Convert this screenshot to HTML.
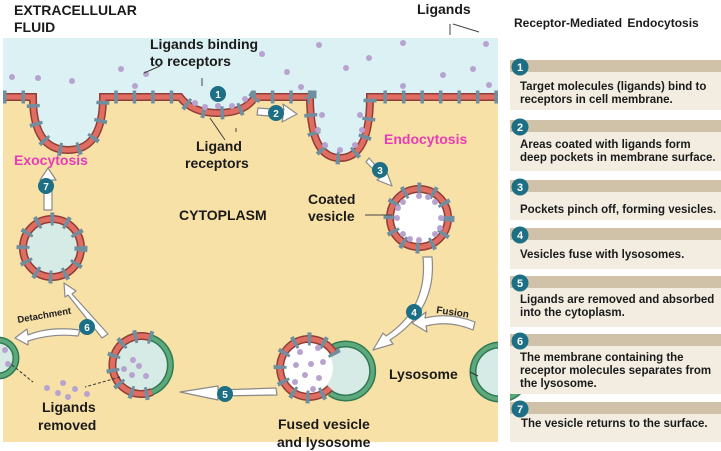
<!DOCTYPE html>
<html><head><meta charset="utf-8"><style>
body{margin:0;width:721px;height:451px;background:#fff;overflow:hidden;font-family:"Liberation Sans",Arial,sans-serif}
svg{position:absolute;left:0;top:0}
.b{font-weight:bold;fill:#1a1a1a}
</style></head><body>
<svg width="721" height="451" viewBox="0 0 721 451">
<rect x="3" y="38" width="495" height="404" fill="#f8e1a6"/>
<path d="M3,38 H498 V97 H370 Q370,158 340,158 Q310,158 310,97 H255 Q245,113 218,113 Q192,113 180,97 H103 Q103,150 68,150 Q33,150 33,97 H3 Z" fill="#dcf1f3"/>
<g fill="#b6a3d0">
<circle cx="12" cy="77" r="3"/><circle cx="38" cy="78" r="3"/><circle cx="72" cy="81" r="3"/><circle cx="121" cy="69" r="3"/><circle cx="146" cy="74" r="3"/><circle cx="135" cy="86" r="3"/><circle cx="262" cy="54" r="3"/><circle cx="287" cy="72" r="3"/><circle cx="319" cy="45" r="3"/><circle cx="346" cy="68" r="3"/><circle cx="369" cy="58" r="3"/><circle cx="403" cy="43" r="3"/><circle cx="443" cy="75" r="3"/><circle cx="473" cy="69" r="3"/><circle cx="486" cy="44" r="3"/><circle cx="403" cy="86" r="3"/><circle cx="301" cy="87" r="3"/><circle cx="489" cy="85" r="3"/>
</g>
<path d="M3,97 H33 Q33,150 68,150 Q103,150 103,97 H180 Q192,113 218,113 Q245,113 255,97 H310 Q310,158 340,158 Q370,158 370,97 H498" fill="none" stroke="#8f3d36" stroke-width="8"/>
<path d="M3,97 H33 Q33,150 68,150 Q103,150 103,97 H180 Q192,113 218,113 Q245,113 255,97 H310 Q310,158 340,158 Q370,158 370,97 H498" fill="none" stroke="#e06d62" stroke-width="5"/>
<path d="M3,97 H33 Q33,150 68,150 Q103,150 103,97 H180 Q192,113 218,113 Q245,113 255,97 H310 Q310,158 340,158 Q370,158 370,97 H498" fill="none" stroke="#6f8fa0" stroke-width="13" stroke-dasharray="3.5 15"/>
<g fill="#b6a3d0">
<circle cx="195" cy="103" r="3"/><circle cx="205" cy="107" r="3"/><circle cx="218" cy="106" r="3"/><circle cx="232" cy="106" r="3"/><circle cx="245" cy="99" r="3"/>
<circle cx="322" cy="115" r="3"/><circle cx="318" cy="130" r="3"/><circle cx="325" cy="145" r="3"/><circle cx="340" cy="150" r="3"/><circle cx="355" cy="145" r="3"/><circle cx="362" cy="130" r="3"/><circle cx="360" cy="115" r="3"/>
</g>
<circle cx="419" cy="218" r="25" fill="#fff"/>
<circle cx="419" cy="218" r="29" fill="none" stroke="#8f3d36" stroke-width="8"/>
<circle cx="419" cy="218" r="29" fill="none" stroke="#e06d62" stroke-width="5"/>
<circle cx="419" cy="218" r="29" fill="none" stroke="#6f8fa0" stroke-width="13" stroke-dasharray="3.5 11.5"/>
<g fill="#b6a3d0"><circle cx="397" cy="218" r="3"/><circle cx="441" cy="218" r="3"/><circle cx="419" cy="196" r="3"/><circle cx="419" cy="240" r="3"/><circle cx="403" cy="202" r="3"/><circle cx="435" cy="202" r="3"/><circle cx="403" cy="234" r="3"/><circle cx="435" cy="234" r="3"/><circle cx="398" cy="208" r="3"/><circle cx="440" cy="228" r="3"/><circle cx="410" cy="239" r="3"/><circle cx="428" cy="197" r="3"/></g>
<circle cx="52" cy="248" r="25" fill="#d7ebe6"/>
<circle cx="52" cy="248" r="29" fill="none" stroke="#8f3d36" stroke-width="8"/>
<circle cx="52" cy="248" r="29" fill="none" stroke="#e06d62" stroke-width="5"/>
<circle cx="52" cy="248" r="29" fill="none" stroke="#6f8fa0" stroke-width="13" stroke-dasharray="3.5 11.5"/>
<circle cx="140" cy="365" r="27" fill="#d7ebe6"/>
<path d="M152,338 A29,29 0 1,0 152,392" fill="none" stroke="#8f3d36" stroke-width="8"/>
<path d="M152,338 A29,29 0 1,0 152,392" fill="none" stroke="#e06d62" stroke-width="5"/>
<path d="M152,338 A29,29 0 1,0 152,392" fill="none" stroke="#6f8fa0" stroke-width="13" stroke-dasharray="3.5 11.5"/>
<path d="M152,338 A29,29 0 0,1 152,392" fill="none" stroke="#2f7a55" stroke-width="7"/>
<path d="M152,338 A29,29 0 0,1 152,392" fill="none" stroke="#5ea97c" stroke-width="4"/>
<g fill="#b6a3d0"><circle cx="133" cy="360" r="3"/><circle cx="124" cy="369" r="3"/><circle cx="139" cy="366" r="3"/><circle cx="132" cy="375" r="3"/><circle cx="146" cy="376" r="3"/></g>
<circle cx="-2" cy="358" r="18" fill="#d7ebe6" stroke="#2f7a55" stroke-width="7"/>
<circle cx="-2" cy="358" r="18" fill="none" stroke="#5ea97c" stroke-width="4"/>
<g fill="#b6a3d0"><circle cx="5" cy="350" r="3"/><circle cx="8" cy="364" r="3"/></g>
<g fill="#b6a3d0"><circle cx="47" cy="388" r="3"/><circle cx="63" cy="383" r="3"/><circle cx="75" cy="389" r="3"/><circle cx="58" cy="393" r="3"/><circle cx="68" cy="397" r="3"/><circle cx="87" cy="394" r="3"/></g>
<path d="M12,365 L33,382 M120,377 L85,387" stroke="#333" stroke-width="1" stroke-dasharray="3 2" fill="none"/>
<circle cx="345" cy="371" r="27" fill="#d7ebe6"/>
<path d="M330,349 A27,27 0 1,1 330,393" fill="none" stroke="#2f7a55" stroke-width="7"/>
<path d="M330,349 A27,27 0 1,1 330,393" fill="none" stroke="#5ea97c" stroke-width="4"/>
<circle cx="307" cy="368" r="26" fill="#fff"/>
<path d="M335,355 A29,29 0 1,0 330,388" fill="none" stroke="#8f3d36" stroke-width="8"/>
<path d="M335,355 A29,29 0 1,0 330,388" fill="none" stroke="#e06d62" stroke-width="5"/>
<path d="M335,355 A29,29 0 1,0 330,388" fill="none" stroke="#6f8fa0" stroke-width="13" stroke-dasharray="3.5 11.5"/>
<g fill="#b6a3d0"><circle cx="300" cy="352" r="3"/><circle cx="318" cy="348" r="3"/><circle cx="296" cy="365" r="3"/><circle cx="311" cy="364" r="3"/><circle cx="323" cy="362" r="3"/><circle cx="305" cy="375" r="3"/><circle cx="319" cy="378" r="3"/><circle cx="295" cy="382" r="3"/><circle cx="313" cy="389" r="3"/></g>
<circle cx="500" cy="372" r="27" fill="#d7ebe6" stroke="#2f7a55" stroke-width="7"/>
<circle cx="500" cy="372" r="27" fill="none" stroke="#5ea97c" stroke-width="4"/>
<rect x="498" y="300" width="12" height="151" fill="#fff"/>
<path d="M470,372 L478,376" stroke="#333" stroke-width="1"/>
<g fill="#fff" stroke="#8a8a8a" stroke-width="1.2" stroke-linejoin="round">
<path d="M258,108 L284,110 L283,104 L297,114 L282,122 L283,117 L257,115 Z"/>
<path d="M369,158 L383,174 L386,170 L392,186 L377,180 L381,177 L366,162 Z"/>
<path d="M423,257 L432,257 Q437,310 390,340 L393,344 L373,350 L383,333 L386,336 Q428,308 423,257 Z"/>
<path d="M475,322 Q450,312 425,318 L426,312 L412,323 L427,332 L426,326 Q450,320 473,330 Z"/>
<path d="M276,388 L218,390 L218,386 L180,392 L218,400 L218,396 L277,395 Z"/>
<path d="M108,334 L72,294 L76,291 L64,283 L65,297 L68,295 L102,338 Z"/>
<path d="M80,330 Q50,326 28,335 L27,329 L15,338 L28,345 L28,341 Q52,333 78,336 Z"/>
<path d="M44,210 L44,180 L40,180 L48,168 L56,180 L52,180 L52,210 Z"/>
</g>
<g font-size="10" font-weight="bold" fill="#fff" text-anchor="middle">
<circle cx="218" cy="94" r="8" fill="#1d6f86"/><text x="218" y="98">1</text>
<circle cx="276" cy="113" r="8" fill="#1d6f86"/><text x="276" y="117">2</text>
<circle cx="380" cy="170" r="8" fill="#1d6f86"/><text x="380" y="174">3</text>
<circle cx="414" cy="312" r="8" fill="#1d6f86"/><text x="414" y="316">4</text>
<circle cx="225" cy="394" r="8" fill="#1d6f86"/><text x="225" y="398">5</text>
<circle cx="87" cy="327" r="8" fill="#1d6f86"/><text x="87" y="331">6</text>
<circle cx="46" cy="186" r="8" fill="#1d6f86"/><text x="46" y="190">7</text>
</g>
<g class="b" font-size="14">
<text x="14" y="15">EXTRACELLULAR</text><text x="14" y="32">FLUID</text>
<text x="417" y="14">Ligands</text>
<text x="150" y="49">Ligands binding</text><text x="150" y="66">to receptors</text>
<text x="196" y="151">Ligand</text><text x="185" y="168">receptors</text>
<text x="308" y="204">Coated</text><text x="308" y="221">vesicle</text>
<text x="179" y="220">CYTOPLASM</text>
<text x="42" y="412">Ligands</text><text x="38" y="430">removed</text>
<text x="278" y="429">Fused vesicle</text><text x="277" y="447">and lysosome</text>
<text x="389" y="379">Lysosome</text>
</g>
<text x="14" y="165" font-size="14" font-weight="bold" fill="#e83bb8">Exocytosis</text>
<text x="384" y="144" font-size="14" font-weight="bold" fill="#e83bb8">Endocytosis</text>
<text x="436" y="313" font-size="10" font-weight="bold" fill="#222" transform="rotate(8 436 313)">Fusion</text>
<text x="18" y="323" font-size="9.5" font-weight="bold" fill="#222" transform="rotate(-10 18 323)">Detachment</text>
<g stroke="#444" stroke-width="1" fill="none">
<path d="M450,24 V35 M453,24 L479,32"/>
<path d="M144,73 L160,66 M202,78 V86"/>
<path d="M210,118 L225,140 M236,128 V132"/>
<path d="M365,215 L392,215"/>
</g>
<text x="514" y="27" font-size="12" font-weight="bold" fill="#1a1a1a" word-spacing="2">Receptor-Mediated  Endocytosis</text>
<g fill="#f2ede0">
<rect x="510" y="60" width="211" height="50"/><rect x="510" y="120" width="211" height="51"/><rect x="510" y="180" width="211" height="40"/><rect x="510" y="228" width="211" height="41"/><rect x="510" y="276" width="211" height="51"/><rect x="510" y="334" width="211" height="60"/><rect x="510" y="402" width="211" height="40"/>
</g>
<g fill="#cfc2a8">
<rect x="510" y="60" width="211" height="12"/><rect x="510" y="120" width="211" height="12"/><rect x="510" y="180" width="211" height="12"/><rect x="510" y="228" width="211" height="12"/><rect x="510" y="276" width="211" height="12"/><rect x="510" y="334" width="211" height="12"/><rect x="510" y="402" width="211" height="12"/>
</g>
<g font-size="11.5" font-weight="bold" fill="#1a1a1a">
<text x="520" y="90">Target molecules (ligands) bind to</text><text x="520" y="103">receptors in cell membrane.</text>
<text x="520" y="148">Areas coated with ligands form</text><text x="520" y="161">deep pockets in membrane surface.</text>
<text x="520" y="213">Pockets pinch off, forming vesicles.</text>
<text x="520" y="258">Vesicles fuse with lysosomes.</text>
<text x="520" y="303">Ligands are removed and absorbed</text><text x="520" y="316">into the cytoplasm.</text>
<text x="520" y="361">The membrane containing the</text><text x="520" y="374">receptor molecules separates from</text><text x="520" y="387">the lysosome.</text>
<text x="521" y="427">The vesicle returns to the surface.</text>
</g>
<g font-size="11" font-weight="bold" fill="#fff" text-anchor="middle">
<circle cx="520" cy="67" r="8.5" fill="#1d6f86"/><text x="520" y="71">1</text>
<circle cx="520" cy="127" r="8.5" fill="#1d6f86"/><text x="520" y="131">2</text>
<circle cx="520" cy="187" r="8.5" fill="#1d6f86"/><text x="520" y="191">3</text>
<circle cx="520" cy="235" r="8.5" fill="#1d6f86"/><text x="520" y="239">4</text>
<circle cx="520" cy="283" r="8.5" fill="#1d6f86"/><text x="520" y="287">5</text>
<circle cx="520" cy="341" r="8.5" fill="#1d6f86"/><text x="520" y="345">6</text>
<circle cx="520" cy="409" r="8.5" fill="#1d6f86"/><text x="520" y="413">7</text>
</g>
</svg>
</body></html>
